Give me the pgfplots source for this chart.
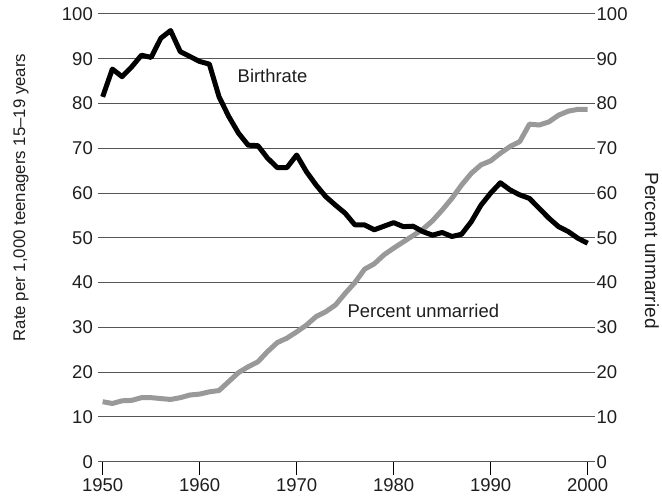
\documentclass[border=0pt]{standalone}
\usepackage{fontspec}
\setmainfont{Liberation Sans}
\usepackage{pgfplots}
\pgfplotsset{compat=1.18}
\usetikzlibrary{calc}
\definecolor{grayline}{RGB}{153,153,153}
\definecolor{gridc}{RGB}{85,85,85}
\definecolor{txt}{RGB}{30,30,30}
\begin{document}
\begin{tikzpicture}
\begin{axis}[name=main, scale only axis, width=492pt, height=447.7pt,
  xmin=1949.52, xmax=2000.24, ymin=0, ymax=100,
  axis x line*=bottom, axis y line*=left,
  x axis line style={-, draw=gridc, line width=1pt},
  y axis line style={draw=none},
  xtick={1950,1960,1970,1980,1990,2000},
  xticklabels={1950,1960,1970,1980,1990,2000},
  ytick={0,10,...,100},
  x tick style={draw=black, line width=1pt},
  xtick align=outside, major tick length=13pt,
  y tick style={draw=none},
  ymajorgrids, grid style={draw=gridc, line width=1pt},
  ticklabel style={font=\fontsize{18.5}{20}\selectfont, inner sep=0pt, text=txt},
  yticklabel style={xshift=-5pt},
  xticklabel style={yshift=-4pt},
  /pgf/number format/assume math mode=true,
  /pgf/number format/1000 sep={},
  ylabel={Rate per 1,000 teenagers 15--19 years},
  ylabel style={at={(axis description cs:-0.1565,0.59)}, anchor=center, font=\fontsize{16.8}{18}\selectfont, text=txt},
  clip=false,
]
\addplot[grayline, line width=5pt, line join=round] coordinates {
(1950,13.4) (1951,13.0) (1952,13.6) (1953,13.7) (1954,14.3) (1955,14.3)
(1956,14.1) (1957,13.9) (1958,14.3) (1959,14.9) (1960,15.1) (1961,15.6)
(1962,15.9) (1963,17.9) (1964,19.9) (1965,21.2) (1966,22.3) (1967,24.6)
(1968,26.6) (1969,27.6) (1970,29.0) (1971,30.5) (1972,32.4) (1973,33.5)
(1974,35.0) (1975,37.6) (1976,40.0) (1977,43.0) (1978,44.2) (1979,46.2)
(1980,47.7) (1981,49.1) (1982,50.5) (1983,51.9) (1984,53.8) (1985,56.2)
(1986,58.8) (1987,61.8) (1988,64.4) (1989,66.3) (1990,67.2) (1991,68.9)
(1992,70.4) (1993,71.5) (1994,75.4) (1995,75.2) (1996,75.9) (1997,77.4)
(1998,78.3) (1999,78.7) (2000,78.7)
};
\addplot[black, line width=5pt, line join=round] coordinates {
(1950,81.5) (1951,87.7) (1952,86.0) (1953,88.2) (1954,90.8) (1955,90.3)
(1956,94.6) (1957,96.3) (1958,91.6) (1959,90.5) (1960,89.4) (1961,88.8)
(1962,81.5) (1963,77.1) (1964,73.4) (1965,70.7) (1966,70.6) (1967,67.8)
(1968,65.7) (1969,65.7) (1970,68.5) (1971,64.8) (1972,61.8) (1973,59.2)
(1974,57.3) (1975,55.5) (1976,52.9) (1977,52.9) (1978,51.8) (1979,52.6)
(1980,53.4) (1981,52.5) (1982,52.6) (1983,51.4) (1984,50.6) (1985,51.2)
(1986,50.3) (1987,50.8) (1988,53.6) (1989,57.3) (1990,60.0) (1991,62.3)
(1992,60.7) (1993,59.6) (1994,58.8) (1995,56.6) (1996,54.4) (1997,52.5)
(1998,51.4) (1999,49.9) (2000,48.8)
};
\node[anchor=base, font=\fontsize{18.4}{20}\selectfont, text=txt, inner sep=0pt] at (axis cs:1967.51,84.6) {Birthrate};
\node[anchor=base, font=\fontsize{18.4}{20}\selectfont, text=txt, inner sep=0pt] at (axis cs:1983.06,32.25) {Percent unmarried};
\end{axis}
\begin{axis}[scale only axis, width=492pt, height=447.7pt,
  xmin=1949.52, xmax=2000.24, ymin=0, ymax=100,
  axis y line*=right, hide x axis,
  y axis line style={draw=none},
  ytick={0,10,...,100},
  ytick align=outside, major tick length=4.5pt,
  y tick style={draw=gridc, line width=1pt},
  yticklabel style={font=\fontsize{18.5}{20}\selectfont, inner sep=0pt, text=txt, xshift=2pt},
  /pgf/number format/assume math mode=true,
  ylabel={Percent unmarried},
  ylabel style={at={(axis description cs:1.126,0.4717)}, anchor=center, rotate=180, font=\fontsize{19}{20}\selectfont, text=txt},
]
\end{axis}
\pgfresetboundingbox
\path[use as bounding box] ($(main.south west)+(-98pt,-38.3pt)$) rectangle ($(main.south west)+(564pt,461.7pt)$);
\end{tikzpicture}
\end{document}
